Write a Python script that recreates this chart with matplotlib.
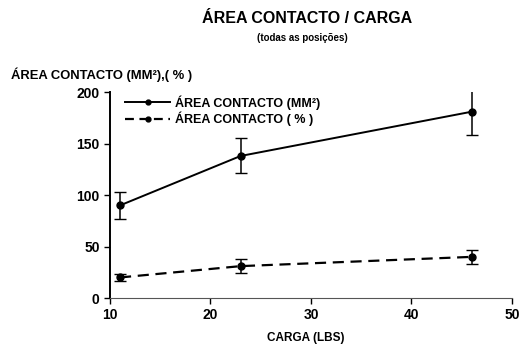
import matplotlib
matplotlib.use("Agg")
import matplotlib.pyplot as plt
from matplotlib.lines import Line2D

plt.rcParams['font.family'] = ['Liberation Sans', 'DejaVu Sans']
plt.rcParams['font.weight'] = 'bold'

# carga (lbs)
carga = [11, 23, 46]
# area de contacto em mm2 e respectivo desvio
area_mm2 = [90, 138, 181]
err_mm2 = [13, 17, 23]
# area de contacto em %
area_pct = [20, 31, 40]
err_pct = [3, 6.5, 6.5]

labels = ['ÁREA CONTACTO (MM²)', 'ÁREA CONTACTO ( % )']

fig = plt.figure(figsize=(5.2, 3.49), dpi=100)
ax = fig.add_axes([0.2115, 0.146, 0.773, 0.590])

ax.errorbar(carga, area_mm2, yerr=err_mm2, color='black', linestyle='-',
            linewidth=1.4, marker='o', markersize=5, capsize=4, elinewidth=1.1)
ax.errorbar(carga, area_pct, yerr=err_pct, color='black', linestyle=(0, (5, 3)),
            linewidth=1.6, marker='o', markersize=5, capsize=4, elinewidth=1.1)

ax.set_xlim(10, 50)
ax.set_ylim(0, 200)
ax.set_xticks([10, 20, 30, 40, 50])
ax.set_yticks([0, 50, 100, 150, 200])
ax.tick_params(labelsize=10, length=4, width=1)
for s in ['top', 'right']:
    ax.spines[s].set_visible(False)
ax.spines['left'].set_linewidth(1.4)
ax.spines['bottom'].set_linewidth(0.8)
ax.spines['bottom'].set_color('#555555')

handles = [Line2D([], [], color='black', linestyle='-', linewidth=1.4,
                  marker='o', markersize=3.5),
           Line2D([], [], color='black', linestyle=(0, (4, 2.5)), linewidth=1.6,
                  marker='o', markersize=3.5)]
ax.legend(handles, labels, loc='upper left', bbox_to_anchor=(0.01, 1.04), frameon=False,
          fontsize=9, handlelength=3.6, handletextpad=0.4, labelspacing=0.15)

fig.text(0.590, 0.935, 'ÁREA CONTACTO / CARGA', ha='center', fontsize=11.5, fontweight='bold')
fig.text(0.582, 0.882, '(todas as posições)', ha='center', fontsize=7, fontweight='bold')
fig.text(0.022, 0.775, 'ÁREA CONTACTO (MM²),( % )', ha='left', fontsize=9.4, fontweight='bold')
fig.text(0.588, 0.022, 'CARGA (LBS)', ha='center', fontsize=8.5, fontweight='bold')

fig.savefig('out.png', dpi=100)
